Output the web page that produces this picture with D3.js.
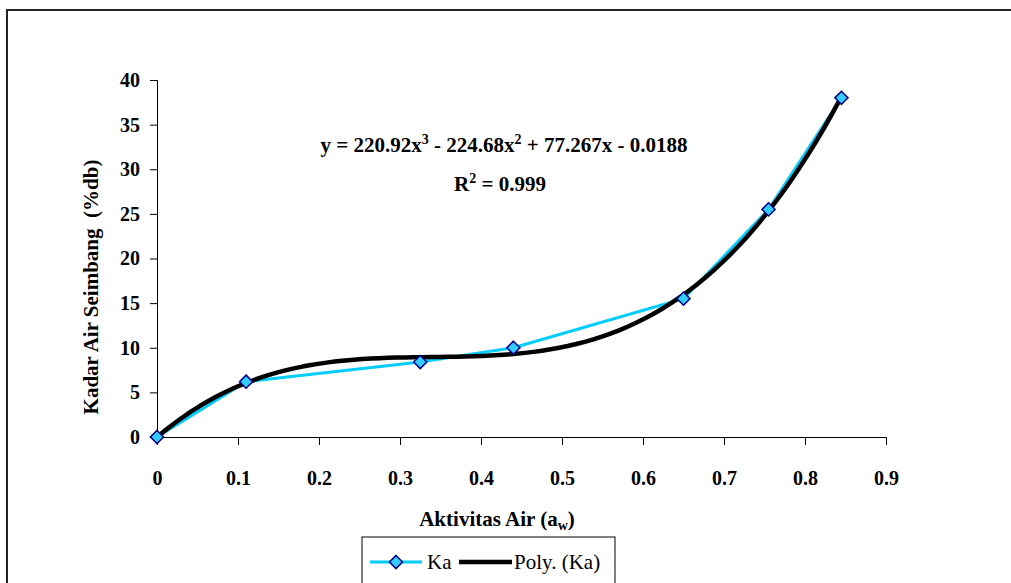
<!DOCTYPE html>
<html>
<head>
<meta charset="utf-8">
<script src="https://cdn.jsdelivr.net/npm/d3@7"></script>
<style>
  body { margin: 0; background: #fff; }
</style>
</head>
<body>
<svg></svg>
<script>
const width = 1011;
const height = 583;
const serif = '"Liberation Serif"';

// data
const aw = [0, 0.11, 0.325, 0.44, 0.65, 0.755, 0.845];
const ka = [0, 6.2, 8.4, 10.0, 15.5, 25.5, 38.0];
// trendline coefficients as printed on the chart (x^3, x^2, x, 1)
const polyCoef = [220.92, -224.68, 77.267, -0.0188];
const xTicks = [0, 0.1, 0.2, 0.3, 0.4, 0.5, 0.6, 0.7, 0.8, 0.9];
const yTicks = [0, 5, 10, 15, 20, 25, 30, 35, 40];

const svg = d3.select('svg')
    .attr('width', width)
    .attr('height', height);

// outer chart border
svg.append('rect')
    .attr('x', 7).attr('y', 10)
    .attr('width', width + 20).attr('height', height + 20)
    .attr('fill', 'none')
    .attr('stroke', '#222')
    .attr('stroke-width', 2);

const x = d3.scaleLinear().domain([0, 0.9]).range([157, 886]);
const y = d3.scaleLinear().domain([0, 40]).range([437, 80]);

const xAxis = svg.append('g')
    .attr('transform', `translate(0,${y(0)})`)
    .call(d3.axisBottom(x).tickValues(xTicks).tickSize(8).tickPadding(26)
        .tickFormat(d => d === 0 ? '0' : d3.format('.1f')(d)));

const yAxis = svg.append('g')
    .attr('transform', `translate(${x(0)},0)`)
    .call(d3.axisLeft(y).tickValues(yTicks).tickSize(7).tickPadding(10));

[xAxis, yAxis].forEach(a => {
    a.select('.domain').attr('stroke', '#000');
    a.selectAll('.tick line').attr('stroke', '#000');
    a.selectAll('.tick text')
        .attr('fill', '#000')
        .style('font-family', serif)
        .style('font-weight', 'bold')
        .style('font-size', '20px');
});

// axis titles
svg.append('text')
    .attr('transform', 'translate(98,287) rotate(-90)')
    .attr('text-anchor', 'middle')
    .style('font-family', serif)
    .style('font-weight', 'bold')
    .style('font-size', '21px')
    .text('Kadar Air Seimbang\u00a0\u00a0(%db)');

const xt = svg.append('text')
    .attr('x', 497).attr('y', 526)
    .attr('text-anchor', 'middle')
    .style('font-family', serif)
    .style('font-weight', 'bold')
    .style('font-size', '21px');
xt.append('tspan').text('Aktivitas Air (a');
xt.append('tspan').attr('dy', 4).style('font-size', '14px').text('w');
xt.append('tspan').attr('dy', -4).text(')');

// Ka series
const line = d3.line().x((d, i) => x(aw[i])).y(d => y(d));
svg.append('path')
    .datum(ka)
    .attr('d', line)
    .attr('fill', 'none')
    .attr('stroke', '#00CCFF')
    .attr('stroke-width', 3);

// polynomial trendline
const poly = v => polyCoef[0] * v * v * v + polyCoef[1] * v * v + polyCoef[2] * v + polyCoef[3];
const trendX = d3.range(0, aw[aw.length - 1] + 1e-9, aw[aw.length - 1] / 80);
svg.append('path')
    .datum(trendX)
    .attr('d', d3.line().x(d => x(d)).y(d => y(poly(d))))
    .attr('fill', 'none')
    .attr('stroke', '#000')
    .attr('stroke-width', 4.5)
    .attr('stroke-linejoin', 'round');

// markers
const diamond = d3.symbol().type(d3.symbolDiamond2).size(110);
svg.selectAll('path.marker')
    .data(ka)
    .enter().append('path')
    .attr('class', 'marker')
    .attr('d', diamond)
    .attr('transform', (d, i) => `translate(${x(aw[i])},${y(d)})`)
    .attr('fill', '#33CCFF')
    .attr('stroke', '#000080')
    .attr('stroke-width', 1.5);

// equation
const eq = svg.append('text')
    .attr('x', 504).attr('y', 152)
    .attr('text-anchor', 'middle')
    .style('font-family', serif)
    .style('font-weight', 'bold')
    .style('font-size', '21px');
eq.append('tspan').text('y = 220.92x');
eq.append('tspan').attr('dy', -8).style('font-size', '14px').text('3');
eq.append('tspan').attr('dy', 8).text(' - 224.68x');
eq.append('tspan').attr('dy', -8).style('font-size', '14px').text('2');
eq.append('tspan').attr('dy', 8).text(' + 77.267x - 0.0188');

const r2 = svg.append('text')
    .attr('x', 500).attr('y', 191)
    .attr('text-anchor', 'middle')
    .style('font-family', serif)
    .style('font-weight', 'bold')
    .style('font-size', '21px');
r2.append('tspan').text('R');
r2.append('tspan').attr('dy', -8).style('font-size', '14px').text('2');
r2.append('tspan').attr('dy', 8).text(' = 0.999');

// legend
const lg = svg.append('g');
lg.append('rect')
    .attr('x', 362).attr('y', 537)
    .attr('width', 253).attr('height', 60)
    .attr('fill', '#fff')
    .attr('stroke', '#000')
    .attr('stroke-width', 1);
lg.append('line')
    .attr('x1', 370).attr('x2', 422).attr('y1', 562).attr('y2', 562)
    .attr('stroke', '#00CCFF').attr('stroke-width', 3);
lg.append('path')
    .attr('d', diamond)
    .attr('transform', 'translate(396,562)')
    .attr('fill', '#33CCFF')
    .attr('stroke', '#000080')
    .attr('stroke-width', 1.5);
lg.append('text')
    .attr('x', 427).attr('y', 569)
    .style('font-family', serif)
    .style('font-size', '21px')
    .text('Ka');
lg.append('line')
    .attr('x1', 459).attr('x2', 512).attr('y1', 562).attr('y2', 562)
    .attr('stroke', '#000').attr('stroke-width', 4.5);
lg.append('text')
    .attr('x', 514).attr('y', 569)
    .style('font-family', serif)
    .style('font-size', '21px')
    .text('Poly. (Ka)');
</script>
</body>
</html>
